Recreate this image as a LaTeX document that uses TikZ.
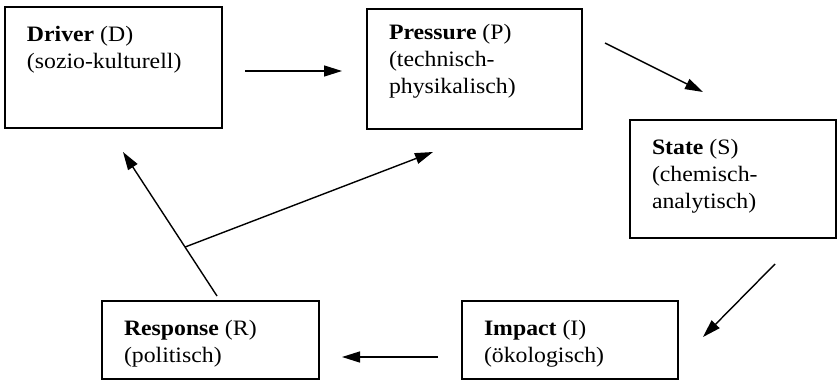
\documentclass[tikz,border=0pt]{standalone}
\usepackage{fontspec}
\setmainfont{Liberation Serif}[FakeStretch=1.08]
\usetikzlibrary{arrows.meta,calc,positioning}
\definecolor{dpsirink}{HTML}{000000}
\newcommand{\dpsirtext}[3]{\parbox[t][#1][t]{#2}{\raggedright\strut#3}}

\begin{document}
\begin{tikzpicture}[x=1pt,y=-1pt,
  font=\fontsize{22}{27}\selectfont,text=dpsirink,
  dpsirbox/.style={draw=dpsirink,line width=1.5pt,anchor=north west,
    inner xsep=22pt,inner ysep=16pt,outer sep=0pt},
  dpsirarrow/.style={draw=dpsirink,line width=1.4pt,
    -{Triangle[length=18pt,width=11pt]}}]
  \path[use as bounding box] (0,0) rectangle (838,380);

  % the five DPSIR boxes, placed at their top left corners
  \node[dpsirbox] (drv) at (5,7)
    {\dpsirtext{89pt}{173pt}{\textbf{Driver} (D)\\(sozio-kulturell)}};
  \node[dpsirbox,inner ysep=12pt] (prs) at (367,9)
    {\dpsirtext{96pt}{171pt}{\textbf{Pressure} (P)\\(technisch-\\physikalisch)}};
  \node[dpsirbox] (sts) at (630,120)
    {\dpsirtext{86pt}{162pt}{\textbf{State} (S)\\(chemisch-\\analytisch)}};
  \node[dpsirbox] (imp) at (462,301)
    {\dpsirtext{46pt}{172pt}{\textbf{Impact} (I)\\(ökologisch)}};
  \node[dpsirbox] (rsp) at (102,301)
    {\dpsirtext{46pt}{173pt}{\textbf{Response} (R)\\(politisch)}};

  \draw[dpsirarrow] ($(drv.east)+(23,3.5)$) -- ($(prs.west)+(-25,2)$);
  \draw[dpsirarrow] ($(prs.east)+(23,-26)$) -- ($(sts.north)+(-30,-28)$);
  \draw[dpsirarrow] ($(sts.south)+(42,26)$) -- ($(imp.east)+(25,-3)$);
  \draw[dpsirarrow] ($(imp.west)+(-24,17)$) -- ($(rsp.east)+(23,17)$);
  % the response feeds back to the drivers and to the pressures
  \draw[dpsirarrow] ($(rsp.north)+(6.5,-5)$) -- coordinate[pos=0.34] (fork)
    ($(drv.south)+(9.5,24)$);
  \draw[dpsirarrow] (fork) -- ($(prs.south)+(-41.5,23)$);
\end{tikzpicture}
\end{document}
